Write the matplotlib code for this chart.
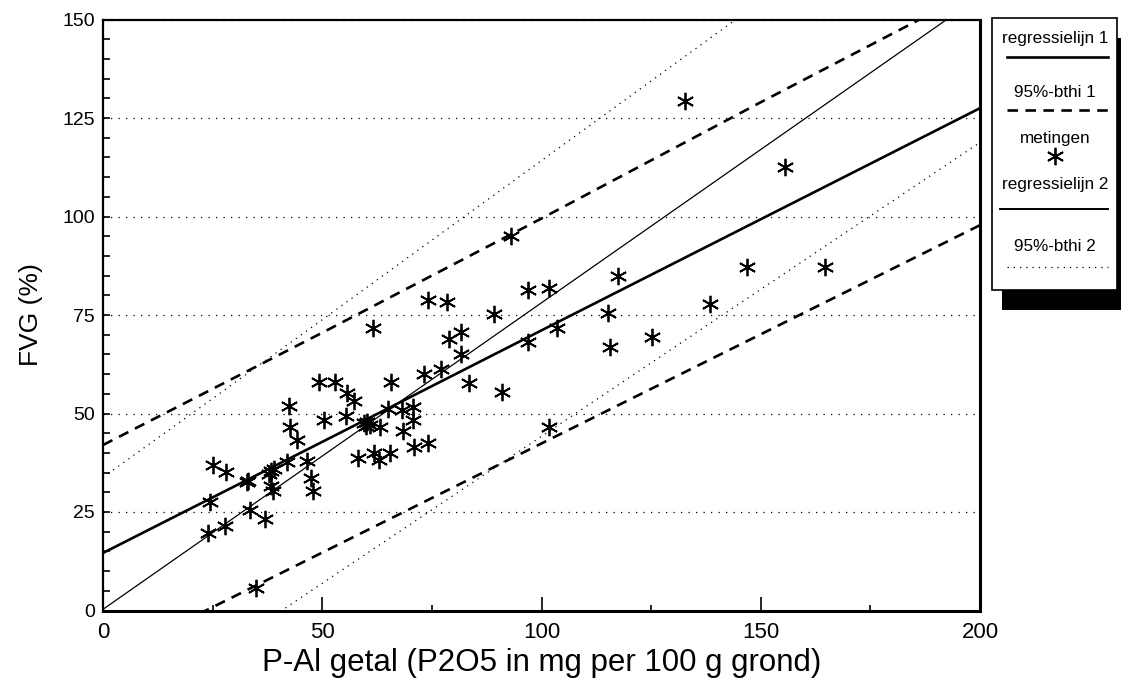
import numpy as np
import matplotlib
matplotlib.use('Agg')
import matplotlib.pyplot as plt
from matplotlib.patches import Rectangle

plt.rcParams['font.family'] = ['Liberation Sans', 'DejaVu Sans']

pal = [24.0, 24.4, 25.0, 28.0, 27.8, 32.8, 33.0, 33.5, 36.9, 35.0,
       37.8, 38.4, 39.0, 38.4, 38.8, 42.0, 42.5, 42.6, 44.2, 46.5,
       47.4, 48.0, 49.2, 52.9, 50.4, 55.6, 57.2, 55.5, 59.5, 60.3,
       61.0, 60.0, 63.1, 64.9, 65.6, 61.6, 68.3, 70.7, 70.7, 68.4,
       58.2, 61.9, 62.9, 65.5, 71.0, 74.1, 73.2, 77.1, 78.9, 81.7,
       81.7, 83.4, 90.9, 74.2, 78.5, 89.1, 93.1, 97.0, 101.6, 97.0,
       103.6, 101.8, 117.5, 115.2, 115.7, 125.1, 132.7, 146.8, 155.5, 164.6,
       138.4]
fvg = [19.7, 27.5, 36.9, 35.1, 21.5, 32.6, 32.9, 25.5, 23.1, 5.7,
       34.6, 35.3, 35.8, 31.7, 30.4, 37.7, 51.9, 46.6, 43.2, 38.0,
       33.7, 30.4, 58.1, 58.1, 48.4, 55.1, 53.2, 49.3, 47.5, 47.9,
       47.2, 46.8, 46.5, 51.2, 58.0, 71.7, 50.9, 51.6, 48.4, 45.5,
       38.7, 40.0, 38.2, 40.1, 41.4, 42.6, 60.1, 61.3, 68.8, 70.7,
       65.2, 57.7, 55.4, 78.7, 78.4, 75.3, 95.1, 81.4, 81.8, 68.1,
       71.8, 46.7, 84.9, 75.4, 66.9, 69.5, 129.4, 87.1, 112.6, 87.3,
       77.8]

# lines, read at these x values
line_x = [0, 50, 100, 150, 200]
reg1 = [14.6, 42.8, 71.1, 99.3, 127.5]
upper1 = [42.0, 70.5, 99.5, 129.0, 158.0]
lower1 = [-13.0, 14.7, 42.4, 70.1, 97.8]
reg2 = [0.3, 39.2, 78.1, 117.0, 155.9]
upper2 = [33.8, 73.8, 114.2, 154.6, 195.0]
lower2 = [-30.4, 6.9, 44.2, 81.5, 118.8]

star = (6, 2, 0)

fig = plt.figure(figsize=(11.21, 6.94), dpi=100)
ax = fig.add_axes([103/1121, 1-610.5/694, 877/1121, 591/694])

ax.plot(line_x, reg1, color='black', lw=1.9, zorder=3)
ax.plot(line_x, upper1, color='black', lw=1.9, ls=(0, (4, 2.8)), zorder=3)
ax.plot(line_x, lower1, color='black', lw=1.9, ls=(0, (4, 2.8)), zorder=3)
ax.plot(line_x, reg2, color='black', lw=0.9, zorder=3)
ax.plot(line_x, upper2, color='black', lw=0.9, ls=(0, (1, 4)), zorder=3)
ax.plot(line_x, lower2, color='black', lw=0.9, ls=(0, (1, 4)), zorder=3)
ax.plot(pal, fvg, ls='none', marker=star, ms=12.5, mew=1.3, color='black', zorder=4)

ax.set_xlim(0, 200)
ax.set_ylim(0, 150)
ax.set_xticks([0, 50, 100, 150, 200])
ax.set_xticks([25, 75, 125, 175], minor=True)
ax.set_yticks(np.arange(0, 151, 25))
ax.set_yticks(np.arange(0, 151, 5), minor=True)
ax.tick_params(axis='both', which='both', direction='in',
               width=1.2, top=False, right=False)
ax.tick_params(axis='x', which='major', length=10, pad=8, labelsize=16)
ax.tick_params(axis='x', which='minor', length=4)
ax.tick_params(axis='y', which='major', length=5, pad=6, labelsize=14)
ax.tick_params(axis='y', which='minor', length=5)
ax.yaxis.grid(True, ls=(0, (1, 5)), color='black', lw=0.9)
for s in ['left', 'top']:
    ax.spines[s].set_linewidth(1.6)
for s in ['right', 'bottom']:
    ax.spines[s].set_linewidth(2.2)

ax.set_xlabel('P-Al getal (P2O5 in mg per 100 g grond)', fontsize=22.5, labelpad=4)
ax.set_ylabel('FVG (%)', fontsize=19, labelpad=14)

# legend box with shadow
ov = fig.add_axes([0, 0, 1, 1])
ov.set_xlim(0, 1121)
ov.set_ylim(694, 0)
ov.axis('off')
ov.add_patch(Rectangle((1002, 38), 125, 272, facecolor='black', edgecolor='none'))
ov.add_patch(Rectangle((992, 18), 125, 272, facecolor='white', edgecolor='black', lw=1.2))
fs = 12.3
ov.text(1055, 38, 'regressielijn 1', ha='center', va='center', fontsize=fs)
ov.plot([1007, 1108], [57, 57], color='black', lw=1.9)
ov.text(1055, 92, '95%-bthi 1', ha='center', va='center', fontsize=fs)
ov.plot([1007, 1108], [110, 110], color='black', lw=1.9, ls=(0, (4, 2.8)))
ov.text(1055, 138, 'metingen', ha='center', va='center', fontsize=fs)
ov.plot([1055], [156], marker=star, ms=12.5, mew=1.3, color='black')
ov.text(1055, 184, 'regressielijn 2', ha='center', va='center', fontsize=fs)
ov.plot([1000, 1108], [209, 209], color='black', lw=1.4)
ov.text(1055, 246, '95%-bthi 2', ha='center', va='center', fontsize=fs)
ov.plot([1007, 1108], [267, 267], color='black', lw=0.9, ls=(0, (1, 4)))

fig.savefig('out.png', dpi=100)
